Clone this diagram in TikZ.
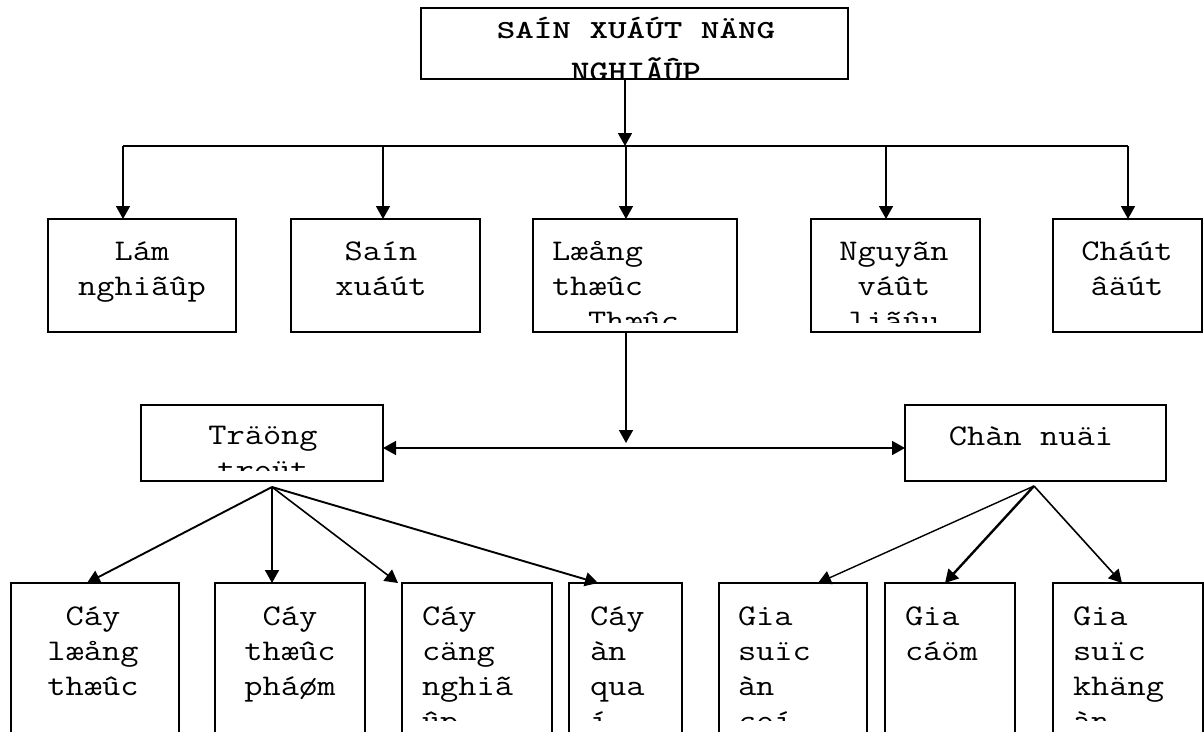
\documentclass[tikz,border=0pt]{standalone}
\usepackage{fontspec}
\usetikzlibrary{arrows.meta}

% typewriter text, widened to the box grid
\newcommand{\cw}[1]{\scalebox{1.18}[1]{#1}}
\newcommand{\hw}[1]{\scalebox{1.36}[1]{#1}}

\tikzset{
  box/.style={draw, line width=1.8pt, inner sep=0pt, outer sep=0pt},
  lbl/.style={inner sep=0pt, outer sep=0pt, font=\fontsize{30}{35}\selectfont\ttfamily},
  hdr/.style={inner sep=0pt, outer sep=0pt, font=\fontsize{26}{30}\selectfont\ttfamily\bfseries},
  hdrb/.style={inner sep=0pt, outer sep=0pt, font=\fontsize{30}{35}\selectfont\ttfamily\bfseries},
  link/.style={line width=1.6pt},
  tip/.tip={Triangle[length=13pt,width=14pt]},
  arr/.style={link, -tip},
}

\begin{document}
\begin{tikzpicture}[x=1pt,y=-1pt]
  \useasboundingbox (0,0) rectangle (1204,731);
  \fill[white] (0,0) rectangle (1204,731);
  \clip (0,0) rectangle (1204,731);

  % ---- boxes ----
  \node[box, minimum width=427, minimum height=71]  (top) at (634.5,43.5) {};

  \node[box, minimum width=188, minimum height=113] (lam)  at (142,275.5) {};
  \node[box, minimum width=189, minimum height=113] (sx)   at (385.5,275.5) {};
  \node[box, minimum width=204, minimum height=113] (lt)   at (635,275.5) {};
  \node[box, minimum width=169, minimum height=113] (nvl)  at (895.5,275.5) {};
  \node[box, minimum width=149, minimum height=113] (cd)   at (1127.5,275.5) {};

  \node[box, minimum width=242, minimum height=76]  (tt)   at (262,443) {};
  \node[box, minimum width=261, minimum height=76]  (cn)   at (1035.5,443) {};

  \node[box, minimum width=168, minimum height=177] (clt)  at (95,671.5) {};
  \node[box, minimum width=150, minimum height=177] (ctp)  at (290,671.5) {};
  \node[box, minimum width=150, minimum height=177] (ccn)  at (477,671.5) {};
  \node[box, minimum width=113, minimum height=177] (caq)  at (625.5,671.5) {};
  \node[box, minimum width=148, minimum height=177] (gsac) at (793,671.5) {};
  \node[box, minimum width=130, minimum height=177] (gc)   at (950,671.5) {};
  \node[box, minimum width=150, minimum height=177] (gsk)  at (1128,671.5) {};

  % ---- labels ----
  \begin{scope}
    \clip (421,8) rectangle (848,78);
    \node[hdr, anchor=base]  (top-1) at (636,38) {\hw{SAÍN XUÁÚT NÄNG}};
    \node[hdrb, anchor=base] (top-2) at (636,81) {\cw{NGHIÃÛP}};
  \end{scope}

  \node[lbl, anchor=base] (lam-1) at (142,260) {\cw{Lám}};
  \node[lbl, anchor=base] (lam-2) at (142,295) {\cw{nghiãûp}};

  \node[lbl, anchor=base] (sx-1) at (381,260) {\cw{Saín}};
  \node[lbl, anchor=base] (sx-2) at (381,295) {\cw{xuáút}};

  \begin{scope}
    \clip (533,219) rectangle (737,322);
    \node[lbl, anchor=base west] (lt-1) at (552,260) {\cw{Læång}};
    \node[lbl, anchor=base west] (lt-2) at (552,295) {\cw{thæûc}};
    \node[lbl, anchor=base west] (lt-3) at (588,330) {\cw{Thæûc}};
  \end{scope}

  \begin{scope}
    \clip (811,219) rectangle (980,322);
    \node[lbl, anchor=base] (nvl-1) at (894,260) {\cw{Nguyãn}};
    \node[lbl, anchor=base] (nvl-2) at (894,295) {\cw{váût}};
    \node[lbl, anchor=base] (nvl-3) at (894,330) {\cw{liãûu}};
  \end{scope}

  \node[lbl, anchor=base] (cd-1) at (1127,260) {\cw{Cháút}};
  \node[lbl, anchor=base] (cd-2) at (1127,295) {\cw{âäút}};

  \begin{scope}
    \clip (141,405) rectangle (383,470);
    \node[lbl, anchor=base] (tt-1) at (263,444) {\cw{Träöng}};
    \node[lbl, anchor=base] (tt-2) at (263,479) {\cw{troüt}};
  \end{scope}

  \node[lbl, anchor=base] (cn-1) at (1031,445) {\cw{Chàn nuäi}};

  \begin{scope}
    \clip (0,583) rectangle (1204,720);
    \node[lbl, anchor=base] (clt-1) at (93,625) {\cw{Cáy}};
    \node[lbl, anchor=base] (clt-2) at (93,660) {\cw{læång}};
    \node[lbl, anchor=base] (clt-3) at (93,695) {\cw{thæûc}};

    \node[lbl, anchor=base] (ctp-1) at (290,625) {\cw{Cáy}};
    \node[lbl, anchor=base] (ctp-2) at (290,660) {\cw{thæûc}};
    \node[lbl, anchor=base] (ctp-3) at (290,695) {\cw{pháøm}};

    \node[lbl, anchor=base west] (ccn-1) at (422,625) {\cw{Cáy}};
    \node[lbl, anchor=base west] (ccn-2) at (422,660) {\cw{cäng}};
    \node[lbl, anchor=base west] (ccn-3) at (422,695) {\cw{nghiã}};
    \node[lbl, anchor=base west] (ccn-4) at (422,730) {\cw{ûp}};

    \node[lbl, anchor=base west] (caq-1) at (590,625) {\cw{Cáy}};
    \node[lbl, anchor=base west] (caq-2) at (590,660) {\cw{àn}};
    \node[lbl, anchor=base west] (caq-3) at (590,695) {\cw{qua}};
    \node[lbl, anchor=base west] (caq-4) at (590,730) {\cw{í}};

    \node[lbl, anchor=base west] (gsac-1) at (738,625) {\cw{Gia}};
    \node[lbl, anchor=base west] (gsac-2) at (738,660) {\cw{suïc}};
    \node[lbl, anchor=base west] (gsac-3) at (738,695) {\cw{àn}};
    \node[lbl, anchor=base west] (gsac-4) at (738,730) {\cw{coí}};

    \node[lbl, anchor=base west] (gc-1) at (905,625) {\cw{Gia}};
    \node[lbl, anchor=base west] (gc-2) at (905,660) {\cw{cáöm}};

    \node[lbl, anchor=base west] (gsk-1) at (1073,625) {\cw{Gia}};
    \node[lbl, anchor=base west] (gsk-2) at (1073,660) {\cw{suïc}};
    \node[lbl, anchor=base west] (gsk-3) at (1073,695) {\cw{khäng}};
    \node[lbl, anchor=base west] (gsk-4) at (1073,730) {\cw{àn}};
  \end{scope}

  % ---- connectors: top level ----
  \coordinate (hub)  at (625,146);
  \coordinate (busL) at (123,146);
  \coordinate (busR) at (1128,146);
  \draw[arr] (hub |- top.south) -- (hub);
  \draw[link] (busL) -- (busR);
  \coordinate (t1) at (123,146);
  \coordinate (t2) at (383,146);
  \coordinate (t3) at (626,146);
  \coordinate (t4) at (886,146);
  \coordinate (t5) at (1128,146);
  \draw[arr] (t1) -- (t1 |- lam.north);
  \draw[arr] (t2) -- (t2 |- sx.north);
  \draw[arr] (t3) -- (t3 |- lt.north);
  \draw[arr] (t4) -- (t4 |- nvl.north);
  \draw[arr] (t5) -- (t5 |- cd.north);

  % ---- connectors: second level ----
  \coordinate (mid) at (626,443);
  \draw[arr] (mid |- lt.south) -- (mid);
  \coordinate (hl) at (0,448);
  \draw[link, tip-tip] (hl -| tt.east) -- (hl -| cn.west);

  % ---- connectors: crops ----
  \coordinate (fa) at (272,487);
  \draw[arr, line width=1.9pt] (fa) -- ([xshift=76pt]clt.north west);
  \draw[arr, line width=1.9pt] (fa) -- ([xshift=57pt]ctp.north west);
  \draw[arr, line width=1.6pt] (fa) -- ([xshift=-4pt]ccn.north west);
  \draw[arr, line width=1.9pt] (fa) -- ([xshift=29pt]caq.north west);

  % ---- connectors: livestock ----
  \coordinate (fb) at (1034,486);
  \draw[arr, line width=1.4pt] (fb) -- ([xshift=99pt]gsac.north west);
  \draw[arr, line width=2.4pt] (fb) -- ([xshift=60pt]gc.north west);
  \draw[arr, line width=1.6pt] (fb) -- ([xshift=69pt]gsk.north west);
\end{tikzpicture}
\end{document}
